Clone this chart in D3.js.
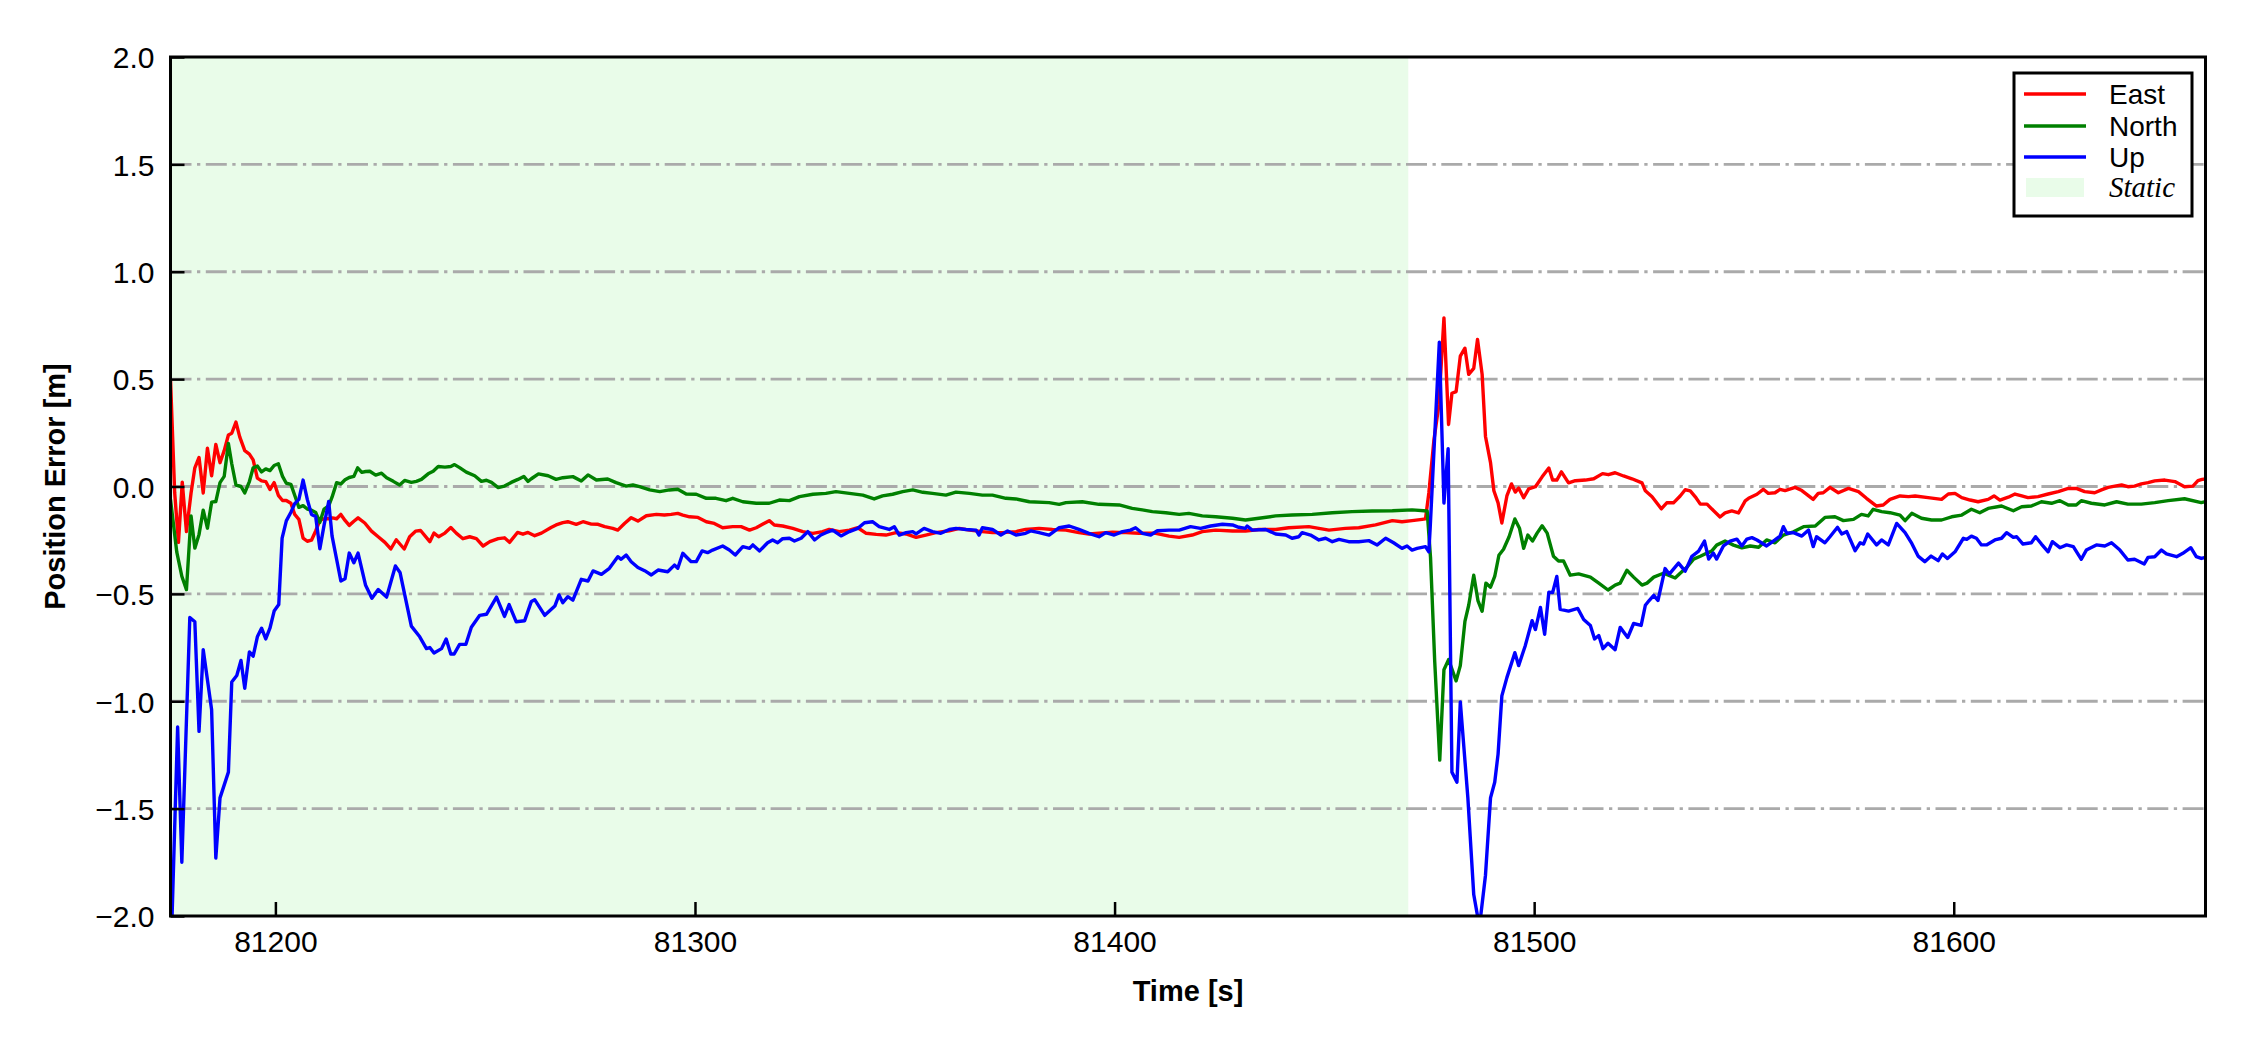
<!DOCTYPE html>
<html>
<head>
<meta charset="utf-8">
<script src="https://cdn.jsdelivr.net/npm/d3@7"></script>
<style>
  html, body { margin: 0; padding: 0; background: #ffffff; }
  svg { display: block; }
</style>
</head>
<body>
<svg id="chart" width="2250" height="1050"></svg>
<script>
// ---------------- DATA ----------------
const xDomain = [81175, 81660];
const yDomain = [-2.0, 2.0];
const xTicks = [81200, 81300, 81400, 81500, 81600];
const yTicks = [-2.0, -1.5, -1.0, -0.5, 0.0, 0.5, 1.0, 1.5, 2.0];
const staticPeriod = [81175, 81470];
const seriesNames = ["East", "North", "Up"];
const staticLabel = "Static";
const xLabel = "Time [s]";
const yLabel = "Position Error [m]";

const east = [
[81175.0,0.50],[81176.0,-0.03],[81176.9,-0.26],[81177.8,0.02],[81178.8,-0.21],[81179.9,-0.03],[81180.8,0.087],[81181.8,0.135],[81182.8,-0.03],[81183.8,0.178],[81184.8,0.05],[81185.8,0.196],[81186.8,0.111],[81187.8,0.167],[81188.8,0.24],[81189.6,0.248],[81190.6,0.30],[81191.5,0.231],[81192.7,0.167],[81193.8,0.151],[81194.7,0.124],[81195.7,0.039],[81196.7,0.026],[81197.7,0.023],[81198.7,-0.014],[81199.7,0.018],[81200.7,-0.041],[81201.7,-0.065],[81202.6,-0.065],[81203.7,-0.078],[81204.6,-0.13],[81205.6,-0.153],[81206.6,-0.24],[81207.6,-0.255],[81208.6,-0.25],[81209.6,-0.207],[81210.6,-0.158],[81211.6,-0.15],[81212.7,-0.15],[81213.6,-0.146],[81214.6,-0.15],[81215.6,-0.13],[81216.6,-0.158],[81217.6,-0.181],[81218.7,-0.162],[81219.7,-0.146],[81221.3,-0.17],[81222.9,-0.208],[81224.5,-0.234],[81226.1,-0.26],[81227.5,-0.291],[81228.8,-0.248],[81230.7,-0.291],[81232.0,-0.234],[81233.4,-0.208],[81234.6,-0.205],[81236.8,-0.257],[81237.8,-0.217],[81238.9,-0.234],[81240.4,-0.217],[81241.8,-0.191],[81243.1,-0.217],[81244.7,-0.243],[81246.3,-0.234],[81247.9,-0.243],[81249.5,-0.277],[81251.1,-0.257],[81253.1,-0.243],[81254.6,-0.239],[81255.8,-0.26],[81257.7,-0.214],[81259.0,-0.222],[81260.2,-0.214],[81261.8,-0.229],[81263.4,-0.217],[81265.7,-0.191],[81266.9,-0.179],[81268.5,-0.168],[81269.7,-0.164],[81271.7,-0.176],[81273.3,-0.164],[81275.3,-0.175],[81276.9,-0.176],[81278.5,-0.187],[81280.4,-0.195],[81281.6,-0.203],[81283.2,-0.172],[81284.8,-0.145],[81286.4,-0.161],[81288.4,-0.136],[81290.8,-0.13],[81292.7,-0.133],[81294.3,-0.13],[81295.9,-0.125],[81297.1,-0.133],[81298.7,-0.141],[81300.7,-0.144],[81302.7,-0.164],[81304.6,-0.172],[81306.6,-0.192],[81309.0,-0.187],[81311.0,-0.187],[81313.0,-0.203],[81314.6,-0.192],[81316.2,-0.175],[81317.7,-0.159],[81318.9,-0.179],[81320.9,-0.184],[81323.3,-0.195],[81325.7,-0.21],[81328.1,-0.218],[81330.4,-0.21],[81332.0,-0.2],[81334.4,-0.21],[81336.8,-0.203],[81338.8,-0.192],[81340.8,-0.218],[81343.2,-0.223],[81345.5,-0.226],[81347.9,-0.215],[81350.3,-0.221],[81352.7,-0.237],[81355.0,-0.226],[81357.4,-0.215],[81360.6,-0.206],[81363.0,-0.195],[81365.4,-0.203],[81368.5,-0.21],[81370.9,-0.215],[81373.3,-0.215],[81376.5,-0.21],[81378.8,-0.2],[81382.0,-0.195],[81385.2,-0.2],[81388.4,-0.203],[81391.5,-0.215],[81393.9,-0.221],[81396.3,-0.218],[81399.5,-0.213],[81402.7,-0.215],[81405.8,-0.218],[81409.8,-0.218],[81413.0,-0.231],[81415.4,-0.237],[81418.5,-0.226],[81420.9,-0.21],[81424.1,-0.203],[81428.1,-0.207],[81431.2,-0.207],[81434.4,-0.2],[81438.4,-0.2],[81441.5,-0.192],[81446.3,-0.187],[81451.1,-0.203],[81455.0,-0.195],[81458.2,-0.192],[81462.2,-0.179],[81466.2,-0.159],[81468.5,-0.164],[81470.9,-0.159],[81473.3,-0.153],[81474.1,-0.151],[81474.9,-0.03],[81476.1,0.214],[81477.3,0.382],[81478.5,0.785],[81479.6,0.289],[81480.4,0.434],[81481.4,0.442],[81482.4,0.607],[81483.5,0.644],[81484.4,0.522],[81485.6,0.55],[81486.5,0.685],[81487.6,0.522],[81488.4,0.233],[81489.6,0.111],[81490.4,-0.02],[81491.4,-0.076],[81492.3,-0.17],[81493.5,-0.044],[81494.6,0.012],[81495.5,-0.026],[81496.3,-0.007],[81497.5,-0.052],[81498.7,-0.011],[81500.3,-0.001],[81501.9,0.045],[81503.5,0.086],[81504.4,0.03],[81505.4,0.03],[81506.5,0.068],[81508.2,0.017],[81509.8,0.027],[81512.2,0.03],[81514.2,0.036],[81516.3,0.06],[81517.7,0.055],[81519.3,0.064],[81521.3,0.049],[81523.3,0.036],[81525.7,0.017],[81526.5,-0.02],[81528.1,-0.048],[81530.3,-0.104],[81531.6,-0.076],[81533.2,-0.076],[81534.8,-0.044],[81536.0,-0.015],[81537.2,-0.02],[81538.4,-0.048],[81539.6,-0.082],[81541.2,-0.082],[81542.3,-0.104],[81544.3,-0.142],[81545.5,-0.123],[81547.1,-0.114],[81548.7,-0.123],[81550.3,-0.067],[81551.1,-0.055],[81553.1,-0.036],[81554.6,-0.013],[81555.8,-0.032],[81557.4,-0.029],[81558.6,-0.013],[81559.8,-0.019],[81562.2,-0.004],[81563.8,-0.019],[81566.5,-0.06],[81567.7,-0.032],[81568.9,-0.029],[81570.5,-0.004],[81572.5,-0.029],[81574.9,-0.009],[81577.3,-0.024],[81579.2,-0.055],[81581.6,-0.091],[81583.2,-0.086],[81584.8,-0.06],[81587.2,-0.044],[81589.2,-0.047],[81590.8,-0.044],[81593.9,-0.052],[81597.1,-0.06],[81598.7,-0.035],[81600.3,-0.032],[81601.9,-0.052],[81603.9,-0.063],[81605.8,-0.071],[81608.2,-0.06],[81609.6,-0.044],[81611.0,-0.063],[81613.0,-0.05],[81614.6,-0.035],[81616.2,-0.044],[81617.7,-0.052],[81620.1,-0.047],[81622.5,-0.035],[81624.9,-0.024],[81627.3,-0.009],[81629.2,-0.009],[81631.2,-0.024],[81633.6,-0.029],[81635.2,-0.016],[81636.8,-0.004],[81638.4,0.002],[81640.0,0.007],[81641.5,-0.001],[81643.1,0.002],[81644.7,0.012],[81646.3,0.018],[81647.9,0.026],[81650.3,0.03],[81652.7,0.023],[81655.0,-0.001],[81657.0,0.002],[81658.2,0.027],[81659.2,0.033],[81660.0,0.035]
];

const north = [
[81175.0,-0.06],[81176.5,-0.306],[81177.7,-0.418],[81178.8,-0.48],[81179.9,-0.137],[81180.8,-0.287],[81181.8,-0.223],[81182.8,-0.11],[81183.8,-0.194],[81184.8,-0.073],[81185.8,-0.07],[81186.8,0.018],[81187.8,0.047],[81188.8,0.20],[81189.6,0.106],[81190.6,0.007],[81191.8,0.0],[81192.7,-0.03],[81193.8,0.023],[81194.7,0.087],[81195.7,0.095],[81196.7,0.068],[81197.7,0.082],[81198.7,0.074],[81199.7,0.098],[81200.7,0.106],[81201.7,0.047],[81202.6,0.015],[81203.7,0.01],[81204.6,-0.041],[81205.6,-0.097],[81206.6,-0.089],[81207.6,-0.105],[81208.6,-0.11],[81209.6,-0.121],[81210.6,-0.167],[81211.6,-0.105],[81212.7,-0.09],[81213.5,-0.05],[81214.6,0.018],[81215.6,0.012],[81216.6,0.031],[81217.6,0.042],[81218.7,0.047],[81219.6,0.087],[81220.6,0.066],[81221.5,0.07],[81222.5,0.071],[81223.9,0.053],[81225.3,0.062],[81226.5,0.041],[81228.1,0.024],[81229.6,0.007],[81230.8,0.028],[81232.4,0.019],[81233.6,0.024],[81234.8,0.033],[81236.4,0.059],[81237.6,0.071],[81238.8,0.093],[81240.4,0.09],[81241.8,0.093],[81242.7,0.102],[81243.9,0.088],[81245.5,0.067],[81247.5,0.05],[81249.1,0.024],[81250.3,0.029],[81251.5,0.019],[81253.1,-0.005],[81254.6,0.002],[81256.2,0.019],[81257.8,0.033],[81259.2,0.047],[81260.2,0.024],[81261.0,0.036],[81262.7,0.059],[81265.0,0.05],[81266.9,0.033],[81268.5,0.041],[81270.9,0.046],[81272.9,0.026],[81274.5,0.054],[81276.5,0.03],[81279.2,0.035],[81281.2,0.018],[81283.6,0.002],[81285.2,0.007],[81286.8,-0.001],[81289.2,-0.016],[81291.6,-0.024],[81293.9,-0.016],[81295.9,-0.013],[81297.9,-0.035],[81300.3,-0.036],[81302.7,-0.055],[81305.0,-0.055],[81307.4,-0.066],[81309.0,-0.055],[81311.4,-0.071],[81314.6,-0.078],[81317.7,-0.078],[81320.1,-0.063],[81322.5,-0.066],[81324.9,-0.047],[81328.1,-0.036],[81331.2,-0.032],[81333.6,-0.024],[81336.8,-0.032],[81340.0,-0.04],[81342.7,-0.058],[81344.7,-0.044],[81347.1,-0.036],[81349.5,-0.024],[81351.9,-0.016],[81354.3,-0.027],[81356.6,-0.032],[81359.8,-0.04],[81362.2,-0.026],[81365.4,-0.032],[81368.5,-0.04],[81370.9,-0.04],[81374.1,-0.055],[81376.5,-0.058],[81379.7,-0.071],[81384.4,-0.075],[81386.8,-0.083],[81388.4,-0.075],[81392.3,-0.071],[81396.3,-0.083],[81401.1,-0.086],[81404.2,-0.102],[81406.6,-0.109],[81409.0,-0.117],[81412.2,-0.122],[81415.4,-0.13],[81417.7,-0.125],[81420.9,-0.137],[81424.1,-0.141],[81428.1,-0.148],[81431.2,-0.156],[81434.4,-0.148],[81438.4,-0.137],[81442.3,-0.133],[81447.1,-0.13],[81451.9,-0.122],[81456.6,-0.117],[81461.4,-0.114],[81466.2,-0.113],[81470.9,-0.109],[81474.5,-0.114],[81475.3,-0.33],[81476.3,-0.815],[81477.5,-1.274],[81478.5,-0.853],[81479.6,-0.806],[81481.4,-0.905],[81482.4,-0.834],[81483.5,-0.628],[81484.4,-0.553],[81485.6,-0.413],[81486.6,-0.531],[81487.6,-0.581],[81488.5,-0.45],[81489.6,-0.469],[81490.6,-0.419],[81491.6,-0.32],[81492.7,-0.292],[81494.0,-0.235],[81495.4,-0.151],[81496.5,-0.194],[81497.5,-0.288],[81498.5,-0.226],[81499.6,-0.254],[81500.7,-0.217],[81501.9,-0.183],[81503.1,-0.217],[81504.6,-0.325],[81505.8,-0.347],[81507.0,-0.347],[81508.6,-0.413],[81510.6,-0.407],[81513.4,-0.422],[81515.4,-0.45],[81517.6,-0.482],[81519.3,-0.459],[81520.5,-0.45],[81522.1,-0.39],[81523.7,-0.422],[81525.7,-0.459],[81526.9,-0.45],[81528.5,-0.422],[81530.8,-0.404],[81532.0,-0.413],[81533.6,-0.426],[81534.8,-0.404],[81536.4,-0.376],[81538.0,-0.338],[81539.6,-0.325],[81541.2,-0.31],[81542.3,-0.301],[81543.5,-0.273],[81545.5,-0.254],[81547.5,-0.273],[81549.5,-0.286],[81551.5,-0.277],[81553.5,-0.283],[81555.4,-0.249],[81557.4,-0.262],[81559.4,-0.226],[81561.8,-0.211],[81564.2,-0.187],[81567.0,-0.184],[81569.3,-0.144],[81571.7,-0.141],[81573.7,-0.159],[81576.1,-0.153],[81578.0,-0.13],[81579.6,-0.137],[81580.8,-0.106],[81582.8,-0.117],[81584.8,-0.122],[81587.2,-0.133],[81588.4,-0.159],[81590.0,-0.125],[81592.3,-0.148],[81594.7,-0.156],[81597.1,-0.156],[81599.5,-0.141],[81601.9,-0.133],[81604.2,-0.106],[81606.2,-0.122],[81608.2,-0.102],[81611.4,-0.091],[81614.2,-0.113],[81616.2,-0.094],[81618.5,-0.091],[81620.9,-0.071],[81623.3,-0.078],[81625.3,-0.066],[81627.3,-0.086],[81629.2,-0.086],[81630.4,-0.066],[81632.8,-0.078],[81636.0,-0.086],[81638.8,-0.071],[81641.5,-0.082],[81644.7,-0.082],[81647.9,-0.075],[81651.1,-0.066],[81655.0,-0.057],[81659.0,-0.075],[81660.0,-0.07]
];

const up = [
[81175.0,-2.25],[81176.7,-1.12],[81177.7,-1.75],[81179.6,-0.61],[81180.8,-0.63],[81181.8,-1.14],[81182.8,-0.76],[81184.8,-1.04],[81185.8,-1.73],[81186.8,-1.45],[81188.8,-1.33],[81189.6,-0.91],[81190.8,-0.88],[81191.8,-0.81],[81192.7,-0.94],[81193.8,-0.77],[81194.7,-0.79],[81195.7,-0.70],[81196.7,-0.66],[81197.7,-0.71],[81198.7,-0.66],[81199.7,-0.58],[81200.8,-0.55],[81201.6,-0.24],[81202.6,-0.16],[81203.7,-0.12],[81204.6,-0.08],[81205.6,-0.06],[81206.6,0.03],[81207.6,-0.06],[81208.6,-0.13],[81209.6,-0.14],[81210.6,-0.29],[81211.6,-0.18],[81212.7,-0.07],[81213.5,-0.23],[81214.6,-0.34],[81215.6,-0.44],[81216.6,-0.43],[81217.6,-0.31],[81218.7,-0.355],[81219.7,-0.31],[81221.5,-0.46],[81223.0,-0.52],[81224.5,-0.48],[81226.5,-0.515],[81228.6,-0.37],[81229.7,-0.40],[81232.4,-0.65],[81234.4,-0.70],[81236.0,-0.755],[81236.8,-0.75],[81237.8,-0.775],[81239.6,-0.755],[81240.7,-0.71],[81241.8,-0.78],[81242.6,-0.78],[81243.9,-0.735],[81245.4,-0.735],[81246.7,-0.655],[81248.7,-0.60],[81250.3,-0.595],[81252.7,-0.515],[81254.6,-0.605],[81255.7,-0.55],[81257.4,-0.63],[81259.4,-0.625],[81261.0,-0.535],[81261.8,-0.527],[81264.2,-0.60],[81266.6,-0.557],[81267.6,-0.505],[81268.5,-0.541],[81269.7,-0.513],[81270.9,-0.529],[81272.9,-0.432],[81274.5,-0.44],[81275.7,-0.393],[81277.7,-0.409],[81279.6,-0.381],[81281.6,-0.327],[81282.4,-0.339],[81283.6,-0.319],[81284.8,-0.35],[81286.4,-0.377],[81288.0,-0.392],[81289.6,-0.412],[81291.2,-0.389],[81293.5,-0.397],[81295.1,-0.366],[81295.9,-0.381],[81297.1,-0.311],[81297.9,-0.327],[81299.1,-0.35],[81300.3,-0.35],[81301.7,-0.30],[81303.0,-0.308],[81304.2,-0.296],[81306.6,-0.277],[81308.2,-0.296],[81309.6,-0.319],[81311.4,-0.28],[81313.0,-0.288],[81313.8,-0.272],[81315.4,-0.30],[81317.3,-0.262],[81318.5,-0.249],[81319.7,-0.262],[81320.9,-0.243],[81322.5,-0.241],[81323.7,-0.254],[81325.3,-0.241],[81326.9,-0.21],[81328.5,-0.249],[81330.0,-0.226],[81331.2,-0.215],[81332.8,-0.203],[81334.8,-0.23],[81336.8,-0.21],[81338.8,-0.195],[81340.4,-0.169],[81342.3,-0.164],[81343.9,-0.187],[81346.3,-0.20],[81347.5,-0.187],[81348.7,-0.226],[81350.3,-0.215],[81351.9,-0.21],[81352.7,-0.221],[81354.6,-0.195],[81356.6,-0.21],[81358.6,-0.218],[81360.6,-0.20],[81362.2,-0.195],[81364.6,-0.20],[81367.0,-0.203],[81367.7,-0.226],[81368.5,-0.192],[81370.9,-0.20],[81372.9,-0.226],[81374.5,-0.207],[81376.5,-0.226],[81378.8,-0.218],[81380.0,-0.207],[81382.0,-0.215],[81384.4,-0.226],[81386.8,-0.192],[81389.2,-0.184],[81391.5,-0.2],[81393.9,-0.218],[81396.3,-0.234],[81397.9,-0.215],[81399.9,-0.226],[81401.9,-0.21],[81403.8,-0.203],[81405.0,-0.192],[81406.6,-0.218],[81408.6,-0.226],[81410.2,-0.206],[81413.0,-0.203],[81415.4,-0.203],[81418.1,-0.187],[81420.5,-0.195],[81422.9,-0.184],[81425.7,-0.176],[81428.1,-0.179],[81429.6,-0.19],[81431.2,-0.195],[81431.6,-0.184],[81432.8,-0.203],[81436.0,-0.2],[81438.4,-0.221],[81440.8,-0.226],[81442.3,-0.241],[81443.9,-0.234],[81444.7,-0.215],[81446.7,-0.226],[81448.7,-0.249],[81450.3,-0.241],[81451.9,-0.257],[81453.5,-0.246],[81455.8,-0.257],[81458.2,-0.257],[81460.6,-0.252],[81462.6,-0.272],[81464.6,-0.241],[81466.5,-0.262],[81468.5,-0.288],[81469.7,-0.277],[81470.9,-0.296],[81472.1,-0.288],[81474.1,-0.28],[81474.9,-0.304],[81475.2,-0.20],[81476.1,0.157],[81477.4,0.672],[81478.5,-0.077],[81479.5,0.176],[81480.4,-1.33],[81481.6,-1.377],[81482.4,-1.003],[81484.2,-1.45],[81485.6,-1.90],[81486.6,-2.01],[81487.2,-2.01],[81488.4,-1.81],[81489.6,-1.45],[81490.6,-1.377],[81491.4,-1.246],[81492.3,-0.975],[81493.5,-0.89],[81495.4,-0.774],[81496.3,-0.834],[81497.9,-0.74],[81499.5,-0.625],[81500.3,-0.666],[81501.5,-0.563],[81502.5,-0.688],[81503.5,-0.492],[81504.4,-0.494],[81505.4,-0.419],[81506.2,-0.572],[81508.2,-0.58],[81510.4,-0.568],[81511.8,-0.619],[81513.4,-0.647],[81514.4,-0.71],[81515.4,-0.694],[81516.4,-0.755],[81517.6,-0.73],[81519.3,-0.76],[81520.5,-0.656],[81522.3,-0.703],[81523.7,-0.638],[81525.5,-0.647],[81526.5,-0.553],[81527.4,-0.531],[81528.5,-0.507],[81529.5,-0.531],[81531.2,-0.382],[81532.2,-0.408],[81532.8,-0.394],[81534.4,-0.357],[81536.0,-0.394],[81537.6,-0.325],[81539.2,-0.301],[81540.6,-0.254],[81541.6,-0.338],[81542.7,-0.31],[81543.5,-0.338],[81545.1,-0.277],[81546.7,-0.254],[81548.3,-0.245],[81549.5,-0.277],[81550.7,-0.245],[81551.9,-0.238],[81553.1,-0.249],[81555.4,-0.277],[81557.4,-0.249],[81558.6,-0.231],[81559.4,-0.187],[81560.2,-0.218],[81561.8,-0.215],[81563.8,-0.231],[81565.4,-0.203],[81566.5,-0.28],[81567.3,-0.234],[81569.3,-0.262],[81570.5,-0.234],[81572.3,-0.19],[81573.3,-0.221],[81574.5,-0.21],[81576.5,-0.299],[81577.7,-0.262],[81578.5,-0.268],[81579.5,-0.221],[81581.6,-0.272],[81582.8,-0.249],[81584.4,-0.272],[81586.4,-0.172],[81588.4,-0.215],[81590.0,-0.265],[81591.5,-0.324],[81593.1,-0.35],[81594.6,-0.324],[81596.3,-0.345],[81597.3,-0.314],[81598.5,-0.335],[81600.3,-0.304],[81602.3,-0.241],[81603.1,-0.246],[81604.2,-0.231],[81605.4,-0.241],[81606.6,-0.272],[81607.8,-0.272],[81609.8,-0.249],[81611.4,-0.241],[81612.6,-0.215],[81614.2,-0.237],[81615.0,-0.234],[81616.5,-0.268],[81618.5,-0.262],[81619.5,-0.234],[81620.9,-0.268],[81622.5,-0.304],[81623.5,-0.257],[81625.3,-0.285],[81626.9,-0.272],[81628.5,-0.28],[81630.4,-0.339],[81631.6,-0.296],[81634.0,-0.272],[81636.0,-0.277],[81637.6,-0.262],[81639.6,-0.296],[81641.5,-0.342],[81643.1,-0.339],[81645.4,-0.361],[81646.3,-0.33],[81647.9,-0.327],[81649.5,-0.296],[81650.7,-0.314],[81653.1,-0.327],[81654.6,-0.311],[81656.5,-0.285],[81657.8,-0.327],[81659.0,-0.335],[81660.0,-0.33]
];

const seriesData = [east, north, up];
const seriesColors = ["#ff0000", "#008000", "#0000ff"];

// ---------------- LAYOUT ----------------
const svg = d3.select("#chart");
const W = 2250, H = 1050;
const m = { left: 170.5, right: 2205.5, top: 57, bottom: 916 };
const pw = m.right - m.left, ph = m.bottom - m.top;

const x = d3.scaleLinear().domain(xDomain).range([m.left, m.right]);
const y = d3.scaleLinear().domain(yDomain).range([m.bottom, m.top]);

svg.append("rect").attr("width", W).attr("height", H).attr("fill", "#ffffff");

const defs = svg.append("defs");
defs.append("clipPath").attr("id", "plotclip")
  .append("rect").attr("x", m.left).attr("y", m.top).attr("width", pw).attr("height", ph);

// static region
const staticColor = "#e9fce9";
svg.append("rect")
  .attr("x", x(staticPeriod[0])).attr("y", m.top)
  .attr("width", x(staticPeriod[1]) - x(staticPeriod[0]))
  .attr("height", ph)
  .attr("fill", staticColor);

// grid
const gridG = svg.append("g").attr("clip-path", "url(#plotclip)");
gridG.selectAll("line.grid").data(yTicks.filter(v => v > yDomain[0] && v < yDomain[1]))
  .enter().append("line")
  .attr("x1", m.left).attr("x2", m.right)
  .attr("y1", d => y(d)).attr("y2", d => y(d))
  .attr("stroke", "#aaaaaa").attr("stroke-width", 2.8)
  .attr("stroke-dasharray", "21,5.5,3.3,5.5");

// lines
const line = d3.line().x(d => x(d[0])).y(d => y(d[1]));
const linesG = svg.append("g").attr("clip-path", "url(#plotclip)");
seriesData.forEach((s, i) => {
  linesG.append("path").datum(s)
    .attr("d", line)
    .attr("fill", "none")
    .attr("stroke", seriesColors[i])
    .attr("stroke-width", 3.4)
    .attr("stroke-linejoin", "round")
    .attr("stroke-linecap", "butt");
});

// axes (ticks inward)
const tickLen = 14;
const fontFamily = "'Liberation Sans', Arial, Helvetica, sans-serif";
const xAxis = d3.axisBottom(x).tickValues(xTicks).tickSize(-tickLen).tickPadding(tickLen + 16)
  .tickFormat(d3.format("d"));
const gx = svg.append("g").attr("transform", `translate(0,${m.bottom})`).call(xAxis);
gx.select(".domain").remove();
gx.selectAll(".tick line").attr("stroke", "#000").attr("stroke-width", 2.5);
gx.selectAll(".tick text").attr("font-family", fontFamily).attr("font-size", 30)
  .attr("fill", "#000").attr("dy", null).attr("y", 36);

const yAxis = d3.axisLeft(y).tickValues(yTicks).tickSize(-tickLen).tickPadding(tickLen + 16)
  .tickFormat(d => d3.format(".1f")(d).replace("-", "\u2212"));
const gy = svg.append("g").attr("transform", `translate(${m.left},0)`).call(yAxis);
gy.select(".domain").remove();
gy.selectAll(".tick line").attr("stroke", "#000").attr("stroke-width", 2.5);
gy.selectAll(".tick text").attr("font-family", fontFamily).attr("font-size", 30)
  .attr("fill", "#000").attr("x", -16).attr("dy", "0.36em");

// frame
svg.append("rect").attr("x", m.left).attr("y", m.top).attr("width", pw).attr("height", ph)
  .attr("fill", "none").attr("stroke", "#000").attr("stroke-width", 3);

// axis labels
svg.append("text").attr("x", (m.left + m.right) / 2).attr("y", 1001)
  .attr("text-anchor", "middle").attr("font-family", fontFamily)
  .attr("font-weight", "bold").attr("font-size", 29).text(xLabel);
svg.append("text").attr("transform", `translate(65,${(m.top + m.bottom) / 2}) rotate(-90)`)
  .attr("text-anchor", "middle").attr("font-family", fontFamily)
  .attr("font-weight", "bold").attr("font-size", 29).text(yLabel);

// legend
const lg = svg.append("g");
lg.append("rect").attr("x", 2014).attr("y", 73).attr("width", 178).attr("height", 143)
  .attr("fill", "#ffffff").attr("stroke", "#000").attr("stroke-width", 3);
const rowY = [94, 126, 157, 187.5];
seriesNames.forEach((n, i) => {
  lg.append("line").attr("x1", 2024).attr("x2", 2086).attr("y1", rowY[i]).attr("y2", rowY[i])
    .attr("stroke", seriesColors[i]).attr("stroke-width", 3.5);
  lg.append("text").attr("x", 2109).attr("y", rowY[i] + 10)
    .attr("font-family", fontFamily).attr("font-size", 28).attr("fill", "#000").text(n);
});
lg.append("rect").attr("x", 2026).attr("y", 178).attr("width", 58).attr("height", 19)
  .attr("fill", staticColor);
lg.append("text").attr("x", 2109).attr("y", 197)
  .attr("font-family", "'Liberation Serif', 'Times New Roman', serif")
  .attr("font-style", "italic").attr("font-size", 29).attr("fill", "#000").text(staticLabel);
</script>
</body>
</html>
